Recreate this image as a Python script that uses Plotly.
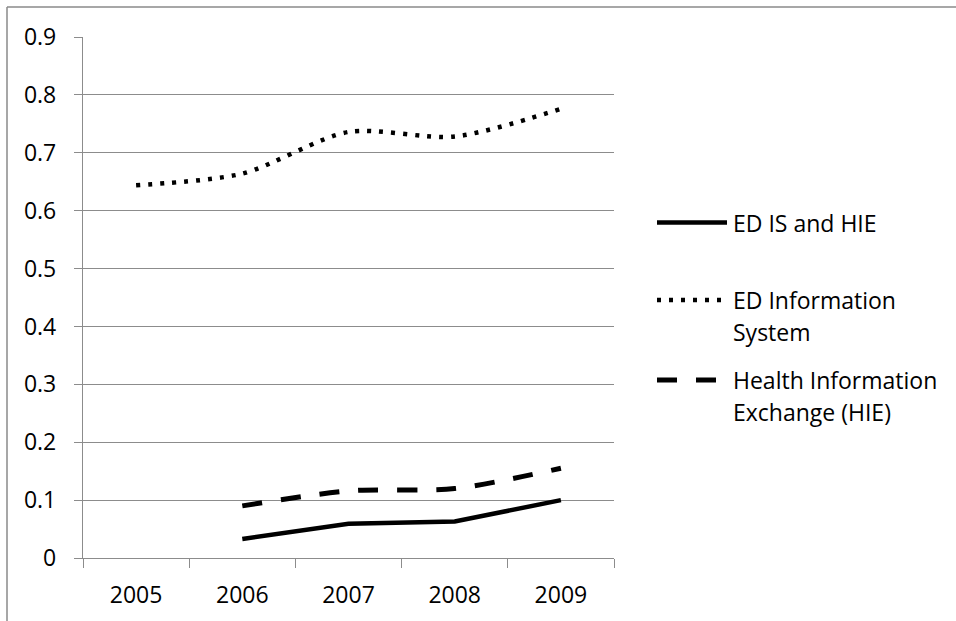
import plotly.graph_objects as go

# ---- data -------------------------------------------------------------
years = ["2005", "2006", "2007", "2008", "2009"]
ed_is_and_hie = [None, 0.033, 0.059, 0.063, 0.100]
ed_information_system = [0.644, 0.664, 0.736, 0.728, 0.776]
health_information_exchange = [None, 0.090, 0.116, 0.120, 0.155]

y_tick_values = [0, 0.1, 0.2, 0.3, 0.4, 0.5, 0.6, 0.7, 0.8, 0.9]
y_tick_labels = ["0", "0.1", "0.2", "0.3", "0.4", "0.5", "0.6", "0.7", "0.8", "0.9"]

legend_lines = [
    ["ED IS and HIE"],
    ["ED Information", "System"],
    ["Health Information", "Exchange (HIE)"],
]

# ---- styling ----------------------------------------------------------
FONT = "Open Sans"
FONT_SIZE = 23
GRID = "#8c8c8c"
W, H = 956, 621
L, R, T, B = 83, 342, 37, 63
PW, PH = W - L - R, H - T - B


def px_x(px):
    return (px - L) / PW


def px_y(py):
    return (H - B - py) / PH


styles = [
    dict(color="black", width=4.5, dash="solid", shape="linear"),
    dict(color="black", width=4.5, dash="4px,8px", shape="spline"),
    dict(color="black", width=5, dash="20px,19px", shape="spline"),
]
series = [ed_is_and_hie, ed_information_system, health_information_exchange]

fig = go.Figure()
for values, st, lines in zip(series, styles, legend_lines):
    fig.add_trace(go.Scatter(
        x=years, y=values, mode="lines", name=" ".join(lines),
        line=dict(color=st["color"], width=st["width"], dash=st["dash"],
                  shape=st["shape"], smoothing=0.8),
        showlegend=False, hoverinfo="skip",
    ))

# ---- legend drawn beside the plot ------------------------------------
shapes = []
annotations = []
legend_rows = [222.5, 300, 380]
for row_y, st, lines in zip(legend_rows, styles, legend_lines):
    shapes.append(dict(
        type="line", xref="paper", yref="paper",
        x0=px_x(657), x1=px_x(727), y0=px_y(row_y), y1=px_y(row_y),
        line=dict(color="black", width=st["width"], dash=st["dash"]),
    ))
    for i, text in enumerate(lines):
        annotations.append(dict(
            text=text, xref="paper", yref="paper",
            x=px_x(731), y=px_y(row_y + 32 * i),
            xanchor="left", yanchor="middle", showarrow=False,
            font=dict(family=FONT, size=FONT_SIZE, color="black"),
        ))

# outer frame (left and top edges)
frame = dict(color="#8a8a8a", width=1.5)
shapes.append(dict(type="line", xref="paper", yref="paper",
                   x0=px_x(7), x1=px_x(7), y0=px_y(7), y1=px_y(640), line=frame))
shapes.append(dict(type="line", xref="paper", yref="paper",
                   x0=px_x(7), x1=px_x(970), y0=px_y(7), y1=px_y(7), line=frame))

fig.update_layout(
    width=W, height=H,
    margin=dict(l=L, r=R, t=T, b=B),
    paper_bgcolor="white", plot_bgcolor="white",
    font=dict(family=FONT, size=FONT_SIZE, color="black"),
    shapes=shapes, annotations=annotations,
    xaxis=dict(
        type="category", range=[-0.5, 4.5], tickson="boundaries",
        ticks="outside", ticklen=9, tickwidth=1.3, tickcolor=GRID,
        showline=True, linecolor=GRID, linewidth=1.3,
        showgrid=False, zeroline=False, ticklabelstandoff=16,
        tickfont=dict(family=FONT, size=FONT_SIZE, color="black"),
    ),
    yaxis=dict(
        range=[0, 0.9], tickmode="array",
        tickvals=y_tick_values, ticktext=y_tick_labels,
        ticks="outside", ticklen=8, tickwidth=1.3, tickcolor=GRID,
        showline=True, linecolor=GRID, linewidth=1.3,
        showgrid=True, gridcolor=GRID, gridwidth=1.3,
        zeroline=False, ticklabelstandoff=13,
        tickfont=dict(family=FONT, size=FONT_SIZE, color="black"),
    ),
)

fig.write_html("out.html")
